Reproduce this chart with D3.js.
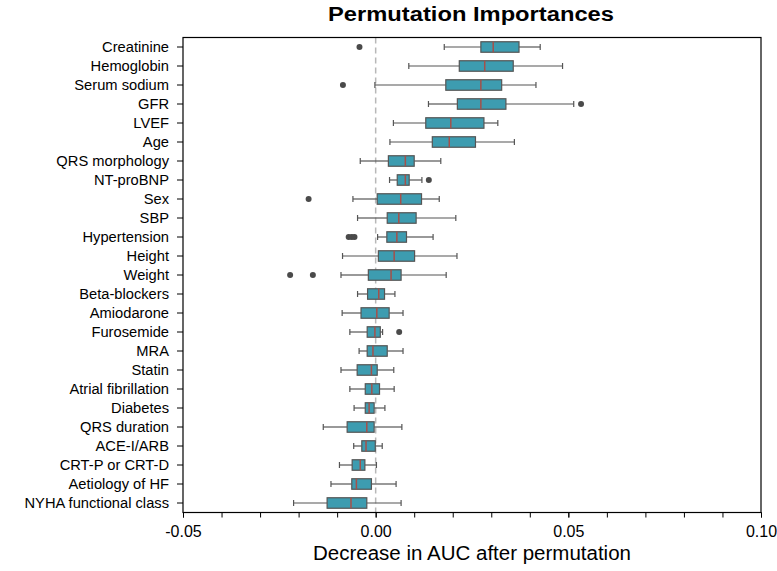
<!DOCTYPE html>
<html><head><meta charset="utf-8">
<script src="https://cdn.jsdelivr.net/npm/d3@7"></script>
<style>body{margin:0;background:#fff;font-family:"Liberation Sans",Arial,sans-serif;}</style>
</head><body><svg id="c" width="777" height="571"></svg>
<script>
const features = ["Creatinine","Hemoglobin","Serum sodium","GFR","LVEF","Age","QRS morphology","NT-proBNP","Sex","SBP","Hypertension","Height","Weight","Beta-blockers","Amiodarone","Furosemide","MRA","Statin","Atrial fibrillation","Diabetes","QRS duration","ACE-I/ARB","CRT-P or CRT-D","Aetiology of HF","NYHA functional class"];
const whiskerLow = [0.0178,0.0086,-0.0002,0.0137,0.0046,0.0037,-0.0040,0.0036,-0.0059,-0.0047,0.0005,-0.0086,-0.0090,-0.0047,-0.0087,-0.0067,-0.0043,-0.0090,-0.0067,-0.0056,-0.0136,-0.0057,-0.0094,-0.0116,-0.0213];
const q1 = [0.0273,0.0217,0.0182,0.0212,0.0130,0.0147,0.0033,0.0056,0.0004,0.0030,0.0029,0.0007,-0.0019,-0.0021,-0.0038,-0.0022,-0.0022,-0.0048,-0.0027,-0.0027,-0.0074,-0.0036,-0.0061,-0.0062,-0.0126];
const median = [0.0305,0.0283,0.0273,0.0273,0.0195,0.0191,0.0077,0.0077,0.0065,0.0060,0.0055,0.0048,0.0040,0.0008,0.0003,-0.0002,-0.0007,-0.0011,-0.0010,-0.0017,-0.0023,-0.0025,-0.0040,-0.0050,-0.0064];
const q3 = [0.0372,0.0357,0.0327,0.0338,0.0281,0.0259,0.0100,0.0087,0.0119,0.0105,0.0080,0.0101,0.0066,0.0023,0.0035,0.0012,0.0030,0.0004,0.0010,-0.0004,-0.0004,-0.0001,-0.0028,-0.0011,-0.0023];
const whiskerHigh = [0.0427,0.0485,0.0416,0.0514,0.0317,0.0360,0.0169,0.0120,0.0165,0.0208,0.0149,0.0211,0.0183,0.0050,0.0071,0.0018,0.0071,0.0047,0.0048,0.0024,0.0068,0.0017,0.0002,0.0053,0.0066];
const outliers = [[-0.0042],[],[-0.0085],[0.0533],[],[],[],[0.0138],[-0.0174],[],[-0.0070,-0.0062,-0.0055],[],[-0.0222,-0.0163],[],[],[0.0061],[],[],[],[],[],[],[],[],[]];
const xTicks = [-0.05,0.00,0.05,0.10];
const xMinorTicks = d3.range(-0.05,0.1001,0.01);

const svg = d3.select("#c");
const m = {l:183, r:761, t:37.5, b:512.5};
const x = d3.scaleLinear().domain([-0.05,0.10]).range([m.l,m.r]);
const y = d3.scaleBand().domain(features).range([m.t,m.b]);
const bh = 10.5;
const fill = "#3d9cb0", edge = "#555555", medCol = "#a5504a";
const FONT = "Liberation Sans, Arial, sans-serif";

// zero line
svg.append("line").attr("x1",x(0)).attr("x2",x(0)).attr("y1",m.t).attr("y2",m.b)
  .attr("stroke","#b8b8b8").attr("stroke-width",1.5).attr("stroke-dasharray","6,4");

const g = svg.append("g");
features.forEach((f,i)=>{
  const cy = y(f)+y.bandwidth()/2;
  const row = g.append("g");
  row.append("line").attr("x1",x(whiskerLow[i])).attr("x2",x(q1[i])).attr("y1",cy).attr("y2",cy).attr("stroke",edge).attr("stroke-width",1.2);
  row.append("line").attr("x1",x(q3[i])).attr("x2",x(whiskerHigh[i])).attr("y1",cy).attr("y2",cy).attr("stroke",edge).attr("stroke-width",1.2);
  [whiskerLow[i],whiskerHigh[i]].forEach(v=>{
    row.append("line").attr("x1",x(v)).attr("x2",x(v)).attr("y1",cy-3).attr("y2",cy+3).attr("stroke",edge).attr("stroke-width",1.2);
  });
  row.append("rect").attr("x",x(q1[i])).attr("width",x(q3[i])-x(q1[i])).attr("y",cy-bh/2).attr("height",bh)
    .attr("fill",fill).attr("stroke",edge).attr("stroke-width",1.2);
  row.append("line").attr("x1",x(median[i])).attr("x2",x(median[i])).attr("y1",cy-bh/2).attr("y2",cy+bh/2).attr("stroke",medCol).attr("stroke-width",1.5);
  outliers[i].forEach(v=>{
    row.append("circle").attr("cx",x(v)).attr("cy",cy).attr("r",3).attr("fill","#4a4a4a");
  });
});

// frame
svg.append("rect").attr("x",m.l).attr("y",m.t).attr("width",m.r-m.l).attr("height",m.b-m.t)
  .attr("fill","none").attr("stroke","#000").attr("stroke-width",1.2);

// x axis
const xa = svg.append("g").attr("transform",`translate(0,${m.b})`);
xa.call(d3.axisBottom(x).tickValues(xMinorTicks).tickFormat("").tickSize(5));
xa.append("g").call(d3.axisBottom(x).tickValues(xTicks).tickFormat(d => d.toFixed(2)).tickSize(5).tickPadding(8));
xa.selectAll(".domain").remove();
xa.selectAll("line").attr("stroke","#000");
xa.selectAll("text").attr("font-size",16).attr("fill","#000").attr("font-family",FONT);

// y axis
const ya = svg.append("g").attr("transform",`translate(${m.l},0)`);
ya.call(d3.axisLeft(y).tickSize(6).tickPadding(8));
ya.select(".domain").remove();
ya.selectAll("line").attr("stroke","#000");
ya.selectAll("text").attr("font-size",14.7).attr("fill","#000").attr("font-family",FONT);

svg.append("text").attr("x",(m.l+m.r)/2).attr("y",560).attr("text-anchor","middle")
  .attr("font-size",19.5).attr("fill","#000").attr("font-family",FONT)
  .attr("textLength",318).attr("lengthAdjust","spacingAndGlyphs")
  .text("Decrease in AUC after permutation");
svg.append("text").attr("x",471).attr("y",21).attr("text-anchor","middle")
  .attr("font-size",19.5).attr("font-weight","bold").attr("fill","#000").attr("font-family",FONT)
  .attr("textLength",286).attr("lengthAdjust","spacingAndGlyphs")
  .text("Permutation Importances");
</script></body></html>
